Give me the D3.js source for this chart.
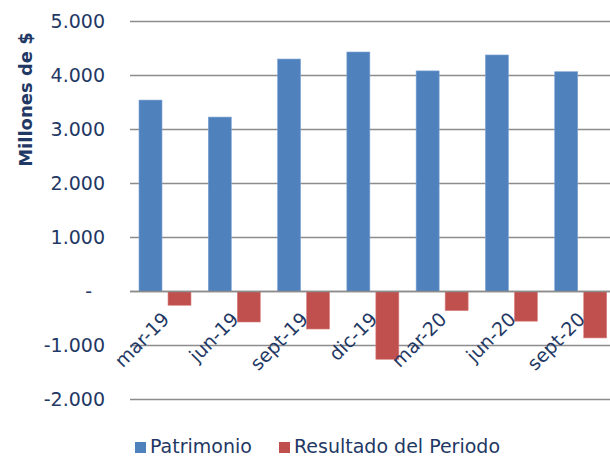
<!DOCTYPE html>
<html>
<head>
<meta charset="utf-8">
<script src="https://cdn.jsdelivr.net/npm/d3@7"></script>
<style>
  body { margin: 0; background: #fff; }
  svg { display: block; }
  svg text { font-family: "DejaVu Sans", Verdana, sans-serif; }
</style>
</head>
<body>
<div id="chart"></div>
<script>
const categories = ['mar-19', 'jun-19', 'sept-19', 'dic-19', 'mar-20', 'jun-20', 'sept-20'];
const seriesNames = ['Patrimonio', 'Resultado del Periodo'];
const patrimonio = [3545, 3230, 4305, 4435, 4085, 4380, 4070];
const resultado = [-255, -565, -695, -1255, -355, -550, -860];
const yTicks = [-2000, -1000, 0, 1000, 2000, 3000, 4000, 5000];
const colors = ['#4f81bd', '#c0504d'];

const width = 610;
const height = 458;
const textColor = '#1f3864';

const svg = d3.select('#chart')
  .append('svg')
  .attr('width', width)
  .attr('height', height);

// scales
const x0 = d3.scaleBand().domain(categories).range([130, 615]);
const x1 = d3.scaleBand().domain(seriesNames).range([9, 61]).paddingInner(0.2069);
const y = d3.scaleLinear().domain([-2000, 5000]).range([399.5, 21.5]);

// excel style: thousands with dot, plain hyphen, zero as dash
function fmt(d) {
  if (d === 0) return '-';
  return d3.format(',')(d).replace(/,/g, '.').replace('\u2212', '-');
}

// gridlines
svg.append('g')
  .selectAll('line')
  .data(yTicks)
  .enter()
  .append('line')
  .attr('x1', 130)
  .attr('x2', width)
  .attr('y1', d => y(d))
  .attr('y2', d => y(d))
  .attr('stroke', '#8c8c8c')
  .attr('stroke-width', 1.6);

// y axis labels
const yAxis = svg.append('g')
  .attr('transform', 'translate(105,0)')
  .call(d3.axisLeft(y).tickValues(yTicks).tickSize(0).tickPadding(0).tickFormat(fmt));
yAxis.select('.domain').remove();
yAxis.selectAll('text')
  .attr('fill', textColor)
  .style('font-size', '19px')
  .attr('dx', d => d === 0 ? -13 : 0);

// bars
const rows = categories.map((c, i) => ({ cat: c, values: [patrimonio[i], resultado[i]] }));

const groups = svg.append('g')
  .selectAll('g')
  .data(rows)
  .enter()
  .append('g')
  .attr('transform', d => 'translate(' + x0(d.cat) + ',0)');

groups.selectAll('rect')
  .data(d => d.values.map((v, j) => ({ key: seriesNames[j], value: v, idx: j })))
  .enter()
  .append('rect')
  .attr('x', d => x1(d.key))
  .attr('width', x1.bandwidth())
  .attr('y', d => y(Math.max(0, d.value)))
  .attr('height', d => Math.abs(y(d.value) - y(0)))
  .attr('fill', d => colors[d.idx])
  .attr('stroke', d => d.idx === 0 ? '#7fa3d3' : '#d98582')
  .attr('stroke-width', 0.6);

// zero line over bars
svg.append('line')
  .attr('x1', 130)
  .attr('x2', width)
  .attr('y1', y(0))
  .attr('y2', y(0))
  .attr('stroke', '#8c8c8c')
  .attr('stroke-width', 1.6);

// x axis labels, rotated
const xAxis = svg.append('g')
  .attr('transform', 'translate(0,' + y(0) + ')')
  .call(d3.axisBottom(x0).tickSize(0).tickPadding(0));
xAxis.select('.domain').remove();
xAxis.selectAll('text')
  .attr('fill', textColor)
  .style('font-size', '19px')
  .attr('text-anchor', 'end')
  .attr('dy', 0)
  .attr('y', 0)
  .attr('transform', 'translate(6,29) rotate(-45)');

// y title
svg.append('text')
  .attr('transform', 'translate(32,99.5) rotate(-90)')
  .attr('text-anchor', 'middle')
  .attr('fill', textColor)
  .style('font-size', '18px')
  .style('font-weight', 'bold')
  .text('Millones de $');

// legend
const legendX = [135, 279];
const legend = svg.append('g')
  .selectAll('g')
  .data(seriesNames)
  .enter()
  .append('g')
  .attr('transform', (d, i) => 'translate(' + legendX[i] + ',442)');

legend.append('rect')
  .attr('width', 11)
  .attr('height', 11)
  .attr('fill', (d, i) => colors[i]);

legend.append('text')
  .attr('x', 15)
  .attr('y', 11)
  .attr('fill', textColor)
  .style('font-size', '19px')
  .text(d => d);
</script>
</body>
</html>
